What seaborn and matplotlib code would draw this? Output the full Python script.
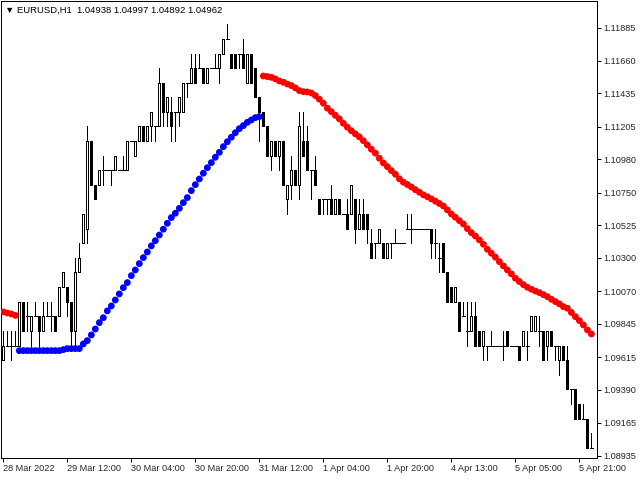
import numpy as np
import pandas as pd

import matplotlib
matplotlib.use("Agg")
import matplotlib.pyplot as plt
import seaborn as sns

# =========================================
# DATA
# =========================================

symbol_text = "\u25bc EURUSD,H1  1.04938 1.04997 1.04892 1.04962"

tick_bars = [0, 16, 32, 48, 64, 80, 96, 112, 128, 144]
tick_labels = [
    "28 Mar 2022", "29 Mar 12:00", "30 Mar 04:00", "30 Mar 20:00",
    "31 Mar 12:00", "1 Apr 04:00", "1 Apr 20:00", "4 Apr 13:00",
    "5 Apr 05:00", "5 Apr 21:00"
]

price_ticks = [
    1.11885, 1.11660, 1.11435, 1.11205, 1.10980, 1.10750, 1.10525,
    1.10300, 1.10070, 1.09845, 1.09615, 1.09390, 1.09165, 1.08935
]

opens = [
    1.09596, 1.09696, 1.09696, 1.09696, 1.09696, 1.09998, 1.09898, 1.09797, 1.09898, 1.09898, 1.09797, 1.09898, 1.09898, 1.09898, 1.09898, 1.10099,
    1.10099, 1.09998, 1.09797, 1.10200, 1.10401, 1.10502, 1.11105, 1.10804, 1.10804, 1.10904, 1.10904, 1.10904, 1.10904, 1.10904, 1.10904, 1.10904,
    1.11105, 1.11005, 1.11105, 1.11206, 1.11105, 1.11206, 1.11206, 1.11206, 1.11508, 1.11307, 1.11307, 1.11307, 1.11307, 1.11307, 1.11508, 1.11508,
    1.11609, 1.11609, 1.11609, 1.11508, 1.11609, 1.11609, 1.11609, 1.11709, 1.11810, 1.11709, 1.11709, 1.11709, 1.11709, 1.11508, 1.11709, 1.11609,
    1.11407, 1.11307, 1.11206, 1.11005, 1.11105, 1.11005, 1.11105, 1.10703, 1.10804, 1.10904, 1.10804, 1.11105, 1.11105, 1.10904, 1.10904, 1.10703,
    1.10703, 1.10703, 1.10703, 1.10602, 1.10703, 1.10602, 1.10602, 1.10602, 1.10703, 1.10502, 1.10602, 1.10602, 1.10401, 1.10401, 1.10401, 1.10401,
    1.10300, 1.10401, 1.10401, 1.10401, 1.10401, 1.10502, 1.10502, 1.10502, 1.10502, 1.10502, 1.10502, 1.10502, 1.10401, 1.10300, 1.10401, 1.10200,
    1.10099, 1.09998, 1.09998, 1.09898, 1.09797, 1.09797, 1.09898, 1.09797, 1.09696, 1.09696, 1.09696, 1.09696, 1.09696, 1.09696, 1.09797, 1.09696,
    1.09696, 1.09696, 1.09696, 1.09696, 1.09797, 1.09797, 1.09797, 1.09797, 1.09696, 1.09797, 1.09696, 1.09596, 1.09696, 1.09596, 1.09395, 1.09395,
    1.09294, 1.09193, 1.09193, 1.08992
]

highs = [
    1.09797, 1.09797, 1.09797, 1.09797, 1.09998, 1.09998, 1.09998, 1.09898, 1.09998, 1.09898, 1.09998, 1.09998, 1.09998, 1.09898, 1.10099, 1.10200,
    1.10099, 1.09998, 1.10300, 1.10401, 1.10602, 1.11206, 1.11105, 1.10804, 1.10904, 1.11005, 1.10904, 1.10904, 1.11005, 1.10904, 1.11005, 1.11105,
    1.11105, 1.11105, 1.11206, 1.11206, 1.11206, 1.11307, 1.11206, 1.11609, 1.11508, 1.11407, 1.11407, 1.11307, 1.11407, 1.11508, 1.11508, 1.11709,
    1.11709, 1.11709, 1.11609, 1.11609, 1.11609, 1.11709, 1.11709, 1.11810, 1.11911, 1.11709, 1.11709, 1.11709, 1.11810, 1.11709, 1.11709, 1.11609,
    1.11407, 1.11307, 1.11206, 1.11105, 1.11105, 1.11105, 1.11105, 1.10804, 1.11005, 1.10904, 1.11307, 1.11307, 1.11206, 1.10904, 1.11005, 1.10703,
    1.10703, 1.10703, 1.10804, 1.10703, 1.10703, 1.10602, 1.10703, 1.10804, 1.10703, 1.10703, 1.10703, 1.10602, 1.10502, 1.10401, 1.10502, 1.10401,
    1.10401, 1.10401, 1.10502, 1.10401, 1.10401, 1.10602, 1.10602, 1.10502, 1.10502, 1.10502, 1.10502, 1.10502, 1.10502, 1.10401, 1.10401, 1.10200,
    1.10099, 1.10099, 1.09998, 1.09998, 1.09998, 1.09998, 1.09998, 1.09797, 1.09797, 1.09696, 1.09797, 1.09696, 1.09696, 1.09797, 1.09797, 1.09696,
    1.09696, 1.09696, 1.09797, 1.09797, 1.09898, 1.09898, 1.09898, 1.09797, 1.09797, 1.09797, 1.09696, 1.09696, 1.09696, 1.09696, 1.09395, 1.09395,
    1.09294, 1.09294, 1.09193, 1.09093
]

lows = [
    1.09596, 1.09696, 1.09596, 1.09696, 1.09696, 1.09797, 1.09797, 1.09696, 1.09898, 1.09696, 1.09797, 1.09898, 1.09797, 1.09797, 1.09898, 1.10099,
    1.09898, 1.09696, 1.09696, 1.10200, 1.10401, 1.10401, 1.10804, 1.10703, 1.10804, 1.10804, 1.10904, 1.10804, 1.10904, 1.10904, 1.10904, 1.10904,
    1.11105, 1.11005, 1.11105, 1.11105, 1.11105, 1.11105, 1.11105, 1.11206, 1.11206, 1.11206, 1.11105, 1.11105, 1.11206, 1.11307, 1.11407, 1.11508,
    1.11508, 1.11609, 1.11508, 1.11508, 1.11609, 1.11609, 1.11508, 1.11709, 1.11810, 1.11609, 1.11609, 1.11609, 1.11609, 1.11508, 1.11508, 1.11407,
    1.11105, 1.11206, 1.11005, 1.10904, 1.11005, 1.10904, 1.10804, 1.10602, 1.10703, 1.10804, 1.10703, 1.11005, 1.10904, 1.10703, 1.10804, 1.10602,
    1.10602, 1.10602, 1.10602, 1.10602, 1.10602, 1.10602, 1.10502, 1.10602, 1.10401, 1.10502, 1.10502, 1.10401, 1.10300, 1.10300, 1.10401, 1.10300,
    1.10300, 1.10300, 1.10401, 1.10401, 1.10401, 1.10502, 1.10401, 1.10502, 1.10502, 1.10502, 1.10502, 1.10300, 1.10300, 1.10200, 1.10200, 1.09998,
    1.09998, 1.09998, 1.09797, 1.09898, 1.09696, 1.09797, 1.09696, 1.09696, 1.09596, 1.09596, 1.09696, 1.09696, 1.09696, 1.09596, 1.09696, 1.09696,
    1.09696, 1.09596, 1.09696, 1.09596, 1.09797, 1.09797, 1.09696, 1.09596, 1.09596, 1.09696, 1.09596, 1.09495, 1.09596, 1.09395, 1.09294, 1.09193,
    1.09193, 1.09193, 1.08992, 1.08992
]

closes = [
    1.09696, 1.09696, 1.09696, 1.09696, 1.09998, 1.09797, 1.09898, 1.09898, 1.09898, 1.09797, 1.09898, 1.09898, 1.09898, 1.09797, 1.10099, 1.10200,
    1.09998, 1.09797, 1.10200, 1.10300, 1.10602, 1.11105, 1.10804, 1.10703, 1.10904, 1.10904, 1.10904, 1.10904, 1.11005, 1.10904, 1.10904, 1.11105,
    1.11105, 1.11105, 1.11206, 1.11105, 1.11206, 1.11307, 1.11206, 1.11508, 1.11307, 1.11407, 1.11206, 1.11307, 1.11407, 1.11508, 1.11508, 1.11609,
    1.11508, 1.11609, 1.11508, 1.11609, 1.11609, 1.11609, 1.11709, 1.11810, 1.11810, 1.11609, 1.11609, 1.11709, 1.11609, 1.11709, 1.11508, 1.11407,
    1.11307, 1.11206, 1.11005, 1.11105, 1.11005, 1.11105, 1.10804, 1.10804, 1.10904, 1.10804, 1.11206, 1.11005, 1.10904, 1.10904, 1.10804, 1.10602,
    1.10703, 1.10703, 1.10602, 1.10703, 1.10602, 1.10602, 1.10502, 1.10804, 1.10502, 1.10602, 1.10502, 1.10502, 1.10300, 1.10401, 1.10502, 1.10300,
    1.10401, 1.10401, 1.10401, 1.10401, 1.10401, 1.10502, 1.10502, 1.10502, 1.10502, 1.10502, 1.10502, 1.10401, 1.10401, 1.10300, 1.10200, 1.09998,
    1.09998, 1.10099, 1.09797, 1.09898, 1.09797, 1.09898, 1.09696, 1.09696, 1.09797, 1.09696, 1.09696, 1.09696, 1.09696, 1.09696, 1.09696, 1.09696,
    1.09696, 1.09596, 1.09797, 1.09696, 1.09898, 1.09898, 1.09797, 1.09596, 1.09797, 1.09696, 1.09696, 1.09696, 1.09596, 1.09395, 1.09395, 1.09193,
    1.09193, 1.09193, 1.08992, 1.08992
]

# indicator dots: red (down trend) -> blue (up trend) -> red
red_head_start = 0
red_head = [1.09928, 1.09921, 1.09914, 1.09904]

blue_start = 4
blue_dots = [
    1.09661, 1.09661, 1.09661, 1.09661, 1.09661, 1.09661, 1.09661, 1.09661,
    1.09661, 1.09661, 1.09661, 1.09668, 1.09675, 1.09675, 1.09675, 1.09675,
    1.09707, 1.09730, 1.09769, 1.09810, 1.09854, 1.09888, 1.09935, 1.09969,
    1.10010, 1.10052, 1.10095, 1.10130, 1.10178, 1.10217, 1.10261, 1.10302,
    1.10341, 1.10383, 1.10419, 1.10458, 1.10498, 1.10539, 1.10578, 1.10608,
    1.10642, 1.10681, 1.10716, 1.10764, 1.10805, 1.10844, 1.10884, 1.10922,
    1.10957, 1.10994, 1.11028, 1.11067, 1.11101, 1.11132, 1.11163, 1.11191,
    1.11212, 1.11235, 1.11251, 1.11267, 1.11274
]

red_start = 65
red_dots = [
    1.11554, 1.11550, 1.11545, 1.11534, 1.11520, 1.11511, 1.11499, 1.11488,
    1.11472, 1.11453, 1.11446, 1.11444, 1.11437, 1.11419, 1.11394, 1.11366,
    1.11332, 1.11308, 1.11283, 1.11258, 1.11228, 1.11201, 1.11177, 1.11155,
    1.11134, 1.11108, 1.11079, 1.11049, 1.11022, 1.10987, 1.10955, 1.10929,
    1.10902, 1.10877, 1.10846, 1.10822, 1.10806, 1.10789, 1.10770, 1.10753,
    1.10735, 1.10722, 1.10707, 1.10691, 1.10675, 1.10658, 1.10631, 1.10603,
    1.10580, 1.10557, 1.10534, 1.10502, 1.10474, 1.10451, 1.10424, 1.10394,
    1.10360, 1.10332, 1.10305, 1.10274, 1.10245, 1.10217, 1.10190, 1.10160,
    1.10137, 1.10116, 1.10098, 1.10084, 1.10072, 1.10061, 1.10047, 1.10033,
    1.10015, 1.09999, 1.09983, 1.09964, 1.09953, 1.09924, 1.09895, 1.09868,
    1.09838, 1.09804, 1.09776
]

# =========================================
# FRAMES
# =========================================

candles = pd.DataFrame({
    "bar": np.arange(len(opens)),
    "open": opens,
    "high": highs,
    "low": lows,
    "close": closes
})

up = candles[candles["close"] > candles["open"]]
down = candles[candles["close"] < candles["open"]]
flat = candles[candles["close"] == candles["open"]]

dots = pd.concat([
    pd.DataFrame({"bar": red_head_start + np.arange(len(red_head)),
                  "value": red_head, "trend": "down"}),
    pd.DataFrame({"bar": blue_start + np.arange(len(blue_dots)),
                  "value": blue_dots, "trend": "up"}),
    pd.DataFrame({"bar": red_start + np.arange(len(red_dots)),
                  "value": red_dots, "trend": "down"}),
])

# =========================================
# PLOT
# =========================================

sns.set_style("white")
plt.rcParams["font.family"] = ["Liberation Sans", "DejaVu Sans"]

fig = plt.figure(figsize=(6.4, 4.8), dpi=100)
ax = fig.add_axes([1 / 640, 22 / 480, 596 / 640, 457 / 480])

px = 0.72  # one pixel in points

# wicks
ax.vlines(candles["bar"], candles["low"], candles["high"],
          color="black", linewidth=px, antialiased=False, zorder=2)

# bear bodies
ax.bar(down["bar"], down["open"] - down["close"], bottom=down["close"],
       width=0.55, color="black", edgecolor="black", linewidth=px,
       antialiased=False, zorder=3)

# bull bodies
ax.bar(up["bar"], up["close"] - up["open"], bottom=up["open"],
       width=0.55, color="white", edgecolor="black", linewidth=px,
       antialiased=False, zorder=3)

# doji
ax.hlines(flat["open"], flat["bar"] - 0.3, flat["bar"] + 0.3,
          color="black", linewidth=px, antialiased=False, zorder=3)

sns.scatterplot(
    data=dots,
    x="bar",
    y="value",
    hue="trend",
    palette={"up": "#0000ff", "down": "#ff0000"},
    s=24,
    linewidth=0,
    legend=False,
    zorder=4,
    ax=ax
)

ax.set_xlim(-0.575, 148.4)
ax.set_ylim(1.08921, 1.12071)

ax.set_xlabel("")
ax.set_ylabel("")

ax.set_xticks(tick_bars)
ax.set_xticklabels(tick_labels, ha="left", fontsize=6.6)

ax.yaxis.tick_right()
ax.set_yticks(price_ticks)
ax.set_yticklabels([f"{v:.5f}" for v in price_ticks], fontsize=6.6)

ax.tick_params(axis="x", length=3, pad=1.5, width=px, color="black",
               bottom=True)
ax.tick_params(axis="y", length=3, pad=1.5, width=px, color="black",
               right=True)

for side in ["left", "right", "top", "bottom"]:
    ax.spines[side].set_visible(True)
    ax.spines[side].set_color("black")
    ax.spines[side].set_linewidth(px)

fig.text(5 / 640, 1 - 10 / 480, symbol_text, fontsize=6.8,
         va="center", ha="left", color="black")

plt.savefig("out.png", dpi=100)

plt.close()
